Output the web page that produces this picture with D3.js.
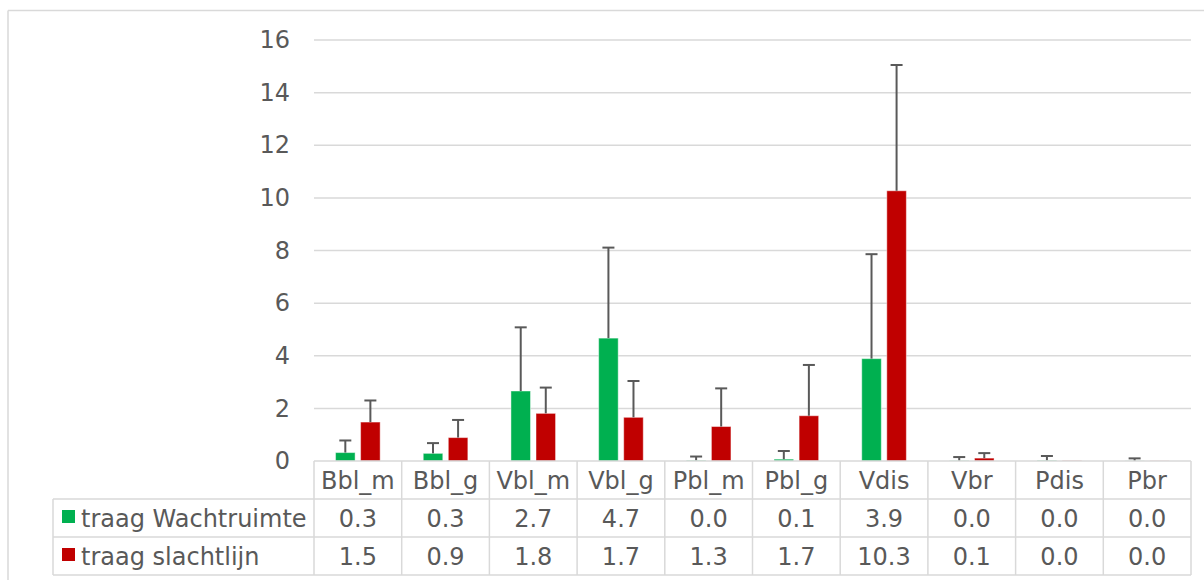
<!DOCTYPE html>
<html>
<head>
<meta charset="utf-8">
<script src="https://cdn.jsdelivr.net/npm/d3@7/dist/d3.min.js"></script>
<style>
    body { margin: 0; background: #fff; }
    text { font-family: 'DejaVu Sans', Verdana, sans-serif; fill: #595959; }
</style>
</head>
<body>
<script>
// data
var categories = ['Bbl_m', 'Bbl_g', 'Vbl_m', 'Vbl_g', 'Pbl_m', 'Pbl_g', 'Vdis', 'Vbr', 'Pdis', 'Pbr'];
var seriesNames = ['traag Wachtruimte', 'traag slachtlijn'];
var wachtruimte = [0.32, 0.29, 2.66, 4.67, 0.02, 0.07, 3.89, 0.01, 0.02, 0.005];
var slachtlijn = [1.48, 0.89, 1.81, 1.66, 1.31, 1.72, 10.27, 0.11, 0.01, 0.005];
// + standaardafwijking (error bars)
var wachtruimteSd = [0.46, 0.39, 2.42, 3.44, 0.15, 0.31, 3.97, 0.14, 0.17, 0.095];
var slachtlijnSd = [0.82, 0.67, 0.98, 1.38, 1.45, 1.93, 4.78, 0.19, 0, 0];
var yTicks = [0, 2, 4, 6, 8, 10, 12, 14, 16];

var colors = ['#00b050', '#c00000'];
var values = [wachtruimte, slachtlijn];
var sds = [wachtruimteSd, slachtlijnSd];

var width = 1204;
var height = 580;
var plot = { left: 314, right: 1191, top: 40, bottom: 461 };
var rowH = 38;
var legendLeft = 53;
var fontSize = 24;
var lineColor = '#d9d9d9';

var svg = d3.select('body').append('svg').attr('width', width).attr('height', height);

// outer chart border (only top and left visible)
svg.append('line').attr('x1', 8).attr('y1', 10.5).attr('x2', width).attr('y2', 10.5)
    .attr('stroke', lineColor).attr('stroke-width', 1.5);
svg.append('line').attr('x1', 8).attr('y1', 10.5).attr('x2', 8).attr('y2', height)
    .attr('stroke', lineColor).attr('stroke-width', 1.5);

var x = d3.scaleBand().domain(categories).range([plot.left, plot.right]);
var xInner = d3.scaleBand().domain(d3.range(2)).range([0, x.bandwidth()])
    .paddingInner(0.22).paddingOuter(0.86);
var y = d3.scaleLinear().domain([0, 16]).range([plot.bottom, plot.top]);

// gridlines + y labels
var yAxis = d3.axisLeft(y).tickValues(yTicks).tickSize(0).tickPadding(24).tickFormat(d3.format('d'));
var gy = svg.append('g').attr('transform', 'translate(' + plot.left + ',0)').call(yAxis);
gy.select('.domain').remove();
gy.selectAll('text').attr('font-size', fontSize).attr('font-family', null).attr('fill', '#595959');

svg.append('g').selectAll('line')
    .data(yTicks.filter(function (d) { return d > 0; }))
    .enter()
    .append('line')
    .attr('x1', plot.left)
    .attr('x2', plot.right)
    .attr('y1', function (d) { return y(d); })
    .attr('y2', function (d) { return y(d); })
    .attr('stroke', lineColor)
    .attr('stroke-width', 1.5);

// bars
values.forEach(function (vals, s) {
    svg.append('g').selectAll('rect')
        .data(vals)
        .enter()
        .append('rect')
        .attr('x', function (d, i) { return x(categories[i]) + xInner(s); })
        .attr('width', xInner.bandwidth())
        .attr('y', function (d) { return y(d); })
        .attr('height', function (d) { return y(0) - y(d); })
        .attr('fill', colors[s])
        .attr('stroke', 'rgba(255,255,255,0.45)')
        .attr('stroke-width', 1);
});

// error bars (plus only)
values.forEach(function (vals, s) {
    var g = svg.append('g');
    vals.forEach(function (d, i) {
        var sd = sds[s][i];
        if (!sd) return;
        var cx = x(categories[i]) + xInner(s) + xInner.bandwidth() / 2;
        var top = y(d + sd);
        g.append('line')
            .attr('x1', cx).attr('x2', cx)
            .attr('y1', y(d)).attr('y2', top)
            .attr('stroke', '#595959').attr('stroke-width', 2);
        g.append('line')
            .attr('x1', cx - 6).attr('x2', cx + 6)
            .attr('y1', top).attr('y2', top)
            .attr('stroke', '#595959').attr('stroke-width', 2);
    });
});

// data table
var table = svg.append('g');
var tableTop = plot.bottom;
var tableBottom = tableTop + rowH * 3;

// horizontal lines
table.append('line').attr('x1', plot.left).attr('x2', plot.right)
    .attr('y1', tableTop).attr('y2', tableTop);
[1, 2, 3].forEach(function (r) {
    table.append('line').attr('x1', legendLeft).attr('x2', plot.right)
        .attr('y1', tableTop + r * rowH).attr('y2', tableTop + r * rowH);
});
// vertical lines
categories.concat(['end']).forEach(function (c, i) {
    var xx = i < categories.length ? x(c) : plot.right;
    table.append('line').attr('x1', xx).attr('x2', xx)
        .attr('y1', tableTop).attr('y2', tableBottom);
});
table.append('line').attr('x1', legendLeft).attr('x2', legendLeft)
    .attr('y1', tableTop + rowH).attr('y2', tableBottom);
table.selectAll('line').attr('stroke', lineColor).attr('stroke-width', 1.5);

// category labels
table.selectAll('text.cat')
    .data(categories)
    .enter()
    .append('text')
    .attr('class', 'cat')
    .attr('x', function (d) { return x(d) + x.bandwidth() / 2; })
    .attr('y', tableTop + 28)
    .attr('text-anchor', 'middle')
    .attr('font-size', fontSize)
    .text(function (d) { return d; });

// value rows
var fmt = d3.format('.1f');
values.forEach(function (vals, s) {
    var rowY = tableTop + rowH * (s + 1);
    table.append('g').selectAll('text')
        .data(vals)
        .enter()
        .append('text')
        .attr('x', function (d, i) { return x(categories[i]) + x.bandwidth() / 2; })
        .attr('y', rowY + 28)
        .attr('text-anchor', 'middle')
        .attr('font-size', fontSize)
        .text(function (d) { return fmt(d); });

    table.append('rect')
        .attr('x', 62).attr('y', rowY + 11)
        .attr('width', 13).attr('height', 13)
        .attr('fill', colors[s]);
    table.append('text')
        .attr('x', 81)
        .attr('y', rowY + 28)
        .attr('font-size', fontSize)
        .text(seriesNames[s]);
});
</script>
</body>
</html>
